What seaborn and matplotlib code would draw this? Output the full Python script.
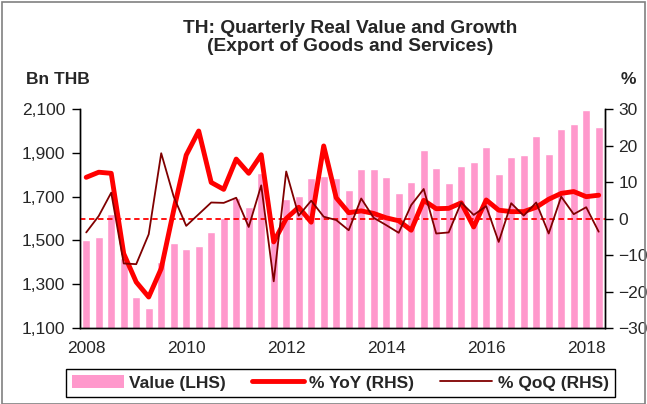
import seaborn as sns
import pandas as pd
import matplotlib.pyplot as plt
from matplotlib.patches import Patch, Rectangle
from matplotlib.lines import Line2D
from matplotlib.ticker import FuncFormatter

# quarters 2008Q1 .. 2018Q2
quarters = [f"{y}Q{q}" for y in range(2008, 2019) for q in range(1, 5)][:42]

# real export value, Bn THB (LHS)
value = [1502, 1514, 1620, 1418, 1241, 1191, 1401, 1489, 1459, 1476, 1538, 1604,
         1694, 1654, 1807, 1500, 1690, 1703, 1787, 1795, 1787, 1731, 1825, 1827,
         1789, 1717, 1767, 1912, 1831, 1763, 1842, 1859, 1926, 1804, 1880, 1891,
         1976, 1897, 2010, 2034, 2094, 2016]

# % YoY (RHS)
yoy = [11.3, 12.7, 12.4, -9.6, -17.4, -21.5, -13.7, 2.3, 17.4, 24.0, 9.9, 8.0,
       16.3, 12.4, 17.5, -6.4, 0.0, 3.1, -1.0, 19.9, 5.7, 1.6, 2.1, 1.4,
       0.2, -0.6, -3.2, 5.0, 2.7, 2.8, 4.3, -2.3, 5.1, 2.3, 1.9, 1.9,
       3.1, 5.3, 6.9, 7.4, 6.0, 6.4]

# % QoQ (RHS)
qoq = [-3.8, 0.7, 7.1, -12.3, -12.5, -4.3, 17.9, 6.0, -2.0, 1.2, 4.4, 4.3,
       5.7, -2.3, 9.1, -17.2, 12.9, 0.8, 4.9, 0.5, -0.4, -3.2, 5.5, 0.2,
       -1.8, -3.9, 3.7, 8.1, -4.1, -3.8, 4.4, 1.0, 3.4, -6.4, 4.2, 0.8,
       4.4, -4.1, 6.0, 1.2, 3.1, -3.6]

df = pd.DataFrame({"q": quarters, "pos": range(len(quarters)),
                   "value": value, "yoy": yoy, "qoq": qoq})

sns.set_style("white")
plt.rcParams["font.family"] = ["Liberation Sans", "DejaVu Sans"]

fig = plt.figure(figsize=(6.47, 4.04), dpi=100)
ax = fig.add_axes([0.1236, 0.188, 0.8114, 0.542])

pink = "#FF99CC"
sns.barplot(data=df, x="q", y="value", color=pink, width=0.67,
            saturation=1, ax=ax, zorder=1)
ax.set_ylim(1100, 2100)
ax.set_yticks(range(1100, 2101, 200))
ax.yaxis.set_major_formatter(FuncFormatter(lambda v, p: f"{int(v):,}"))
ax.set_xlim(-0.5, len(quarters) - 0.5)

ax2 = ax.twinx()
ax2.axhline(0, color="red", ls=(0, (3, 2)), lw=1.3, zorder=1)
sns.lineplot(data=df, x="pos", y="qoq", color="#800000", lw=1.3, ax=ax2, zorder=3)
sns.lineplot(data=df, x="pos", y="yoy", color="#FF0000", lw=3.5, ax=ax2, zorder=2)
ax2.set_ylim(-30, 30)
ax2.set_yticks(range(-30, 31, 10))
ax2.set_xlim(-0.5, len(quarters) - 0.5)

# year ticks between quarters, labels under Q1 of even years
ax.set_xticks([i - 0.5 for i in range(0, 44, 4)])
ax.set_xticklabels([])
ax.set_xticks(range(0, 42, 8), minor=True)
ax.set_xticklabels([str(2008 + 2 * k) for k in range(6)], minor=True)
ax.tick_params(axis="x", which="major", direction="inout", length=7, width=1, color="black")
ax.tick_params(axis="x", which="minor", length=0, pad=9, labelsize=12.5)
ax.tick_params(axis="y", direction="out", length=5.5, width=1, color="black",
               labelsize=12.5, pad=5, left=True)
ax2.tick_params(axis="y", direction="out", length=5.5, width=1, color="black",
                labelsize=12.5, pad=4, right=True)

for a in (ax, ax2):
    a.set_xlabel("")
    a.set_ylabel("")
    a.spines["top"].set_visible(False)
    for s in ("left", "bottom", "right"):
        a.spines[s].set_color("black")
        a.spines[s].set_linewidth(1)

fig.text(0.541, 0.907, "TH: Quarterly Real Value and Growth\n(Export of Goods and Services)",
         ha="center", va="center", fontsize=13.8, fontweight="bold", linespacing=1.05)
fig.text(0.089, 0.802, "Bn THB", ha="center", va="center", fontsize=12.5, fontweight="bold")
fig.text(0.971, 0.802, "%", ha="center", va="center", fontsize=12.5, fontweight="bold")

handles = [Patch(facecolor=pink, edgecolor="none"),
           Line2D([], [], color="#FF0000", lw=3.5),
           Line2D([], [], color="#800000", lw=1.3)]
labels = ["Value (LHS)", "% YoY (RHS)", "% QoQ (RHS)"]
leg = fig.legend(handles, labels, loc="center", bbox_to_anchor=(0.526, 0.052), ncol=3,
                 frameon=True, fancybox=False, edgecolor="black", framealpha=1,
                 prop={"weight": "bold", "size": 12.5}, handlelength=3.0,
                 columnspacing=1.5, handletextpad=0.3, borderpad=0.35,
                 borderaxespad=0)
leg.get_frame().set_linewidth(1)

fig.patches.append(Rectangle((0.003, 0.0), 0.994, 0.995, transform=fig.transFigure,
                             fill=False, edgecolor="#808080", lw=1.2))

fig.savefig("out.png", dpi=100)
